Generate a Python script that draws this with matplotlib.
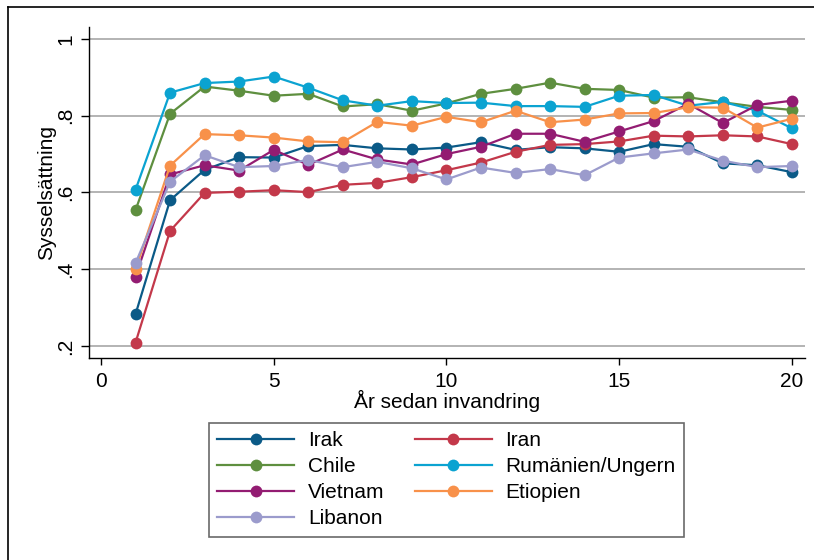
import matplotlib
matplotlib.use("Agg")
import matplotlib.pyplot as plt
from matplotlib.lines import Line2D

plt.rcParams['font.family'] = ['Liberation Sans', 'DejaVu Sans']

years = list(range(1, 21))

irak = [0.283, 0.580, 0.659, 0.692, 0.691, 0.721, 0.724, 0.715, 0.712, 0.717,
        0.731, 0.711, 0.718, 0.715, 0.706, 0.726, 0.719, 0.676, 0.671, 0.653]
iran = [0.209, 0.500, 0.599, 0.602, 0.606, 0.601, 0.620, 0.625, 0.640, 0.658,
        0.678, 0.706, 0.724, 0.726, 0.733, 0.748, 0.746, 0.749, 0.746, 0.726]
chile = [0.554, 0.805, 0.876, 0.865, 0.852, 0.857, 0.824, 0.830, 0.813, 0.832,
         0.857, 0.870, 0.886, 0.870, 0.867, 0.847, 0.848, 0.835, 0.823, 0.815]
rumanien = [0.607, 0.860, 0.885, 0.889, 0.902, 0.873, 0.840, 0.826, 0.838, 0.833,
            0.834, 0.825, 0.825, 0.823, 0.852, 0.854, 0.826, 0.836, 0.813, 0.767]
vietnam = [0.381, 0.647, 0.671, 0.657, 0.711, 0.672, 0.712, 0.686, 0.673, 0.700,
           0.719, 0.753, 0.753, 0.732, 0.759, 0.786, 0.831, 0.781, 0.828, 0.839]
etiopien = [0.400, 0.670, 0.752, 0.749, 0.743, 0.733, 0.731, 0.784, 0.774, 0.797,
            0.783, 0.813, 0.783, 0.790, 0.806, 0.807, 0.822, 0.821, 0.769, 0.792]
libanon = [0.416, 0.628, 0.697, 0.666, 0.669, 0.685, 0.666, 0.680, 0.663, 0.634,
           0.665, 0.651, 0.661, 0.645, 0.691, 0.702, 0.712, 0.683, 0.666, 0.669]

series_names = ["Irak", "Iran", "Chile", "Rumänien/Ungern", "Vietnam", "Etiopien", "Libanon"]
series_values = [irak, iran, chile, rumanien, vietnam, etiopien, libanon]
series_colors = ["#0b5a87", "#c3384a", "#5e8f3f", "#0ba3d1", "#931c72", "#f8914a", "#9b9bcc"]

yticks = [0.2, 0.4, 0.6, 0.8, 1.0]
ytick_labels = [".2", ".4", ".6", ".8", "1"]
xticks = [0, 5, 10, 15, 20]

FS = 15
W, H = 814, 560
fig = plt.figure(figsize=(W / 100, H / 100), dpi=100)
ax = fig.add_axes([89 / W, 1 - 358 / H, (805 - 89) / W, (358 - 27) / H])

for yv in yticks:
    ax.axhline(yv, color="#b3b3b3", lw=1.4, zorder=0)

handles = {}
for name, vals, col in zip(series_names, series_values, series_colors):
    h, = ax.plot(years, vals, color=col, lw=1.6, marker="o", markersize=8.5,
                 markeredgewidth=0, label=name, zorder=3)
    handles[name] = h

ax.set_xlim(-0.347, 20.38)
ax.set_ylim(0.169, 1.031)
ax.set_xticks(xticks)
ax.set_xticklabels([str(x) for x in xticks])
ax.set_yticks(yticks)
ax.set_yticklabels(ytick_labels, rotation=90, va="center")
ax.tick_params(axis="y", length=6, width=1, pad=4, labelsize=FS)
ax.tick_params(axis="x", length=5, width=1, pad=5, labelsize=FS)
for s in ["top", "right"]:
    ax.spines[s].set_visible(False)
for s in ["left", "bottom"]:
    ax.spines[s].set_linewidth(1)

ax.set_xlabel("År sedan invandring", fontsize=FS, labelpad=-1)
ax.set_ylabel("Sysselsättning", fontsize=FS, labelpad=0)

order = ["Irak", "Chile", "Vietnam", "Libanon", "Iran", "Rumänien/Ungern", "Etiopien"]
leg = fig.legend([handles[n] for n in order], order, ncol=2, loc="center",
                 bbox_to_anchor=(446.5 / W, 1 - 479.7 / H), fontsize=FS,
                 frameon=True, fancybox=False, edgecolor="#444444",
                 handlelength=3.7, handletextpad=0.65, columnspacing=1.45,
                 labelspacing=0.34, borderpad=0.4, borderaxespad=0)
leg.get_frame().set_linewidth(1.2)

# outer frame (top and left visible)
fig.add_artist(Line2D([8 / W, 1.0], [1 - 7 / H, 1 - 7 / H], color="black", lw=1.2,
                      transform=fig.transFigure))
fig.add_artist(Line2D([8 / W, 8 / W], [0, 1 - 7 / H], color="black", lw=1.2,
                      transform=fig.transFigure))

fig.savefig("out.png", dpi=100)
